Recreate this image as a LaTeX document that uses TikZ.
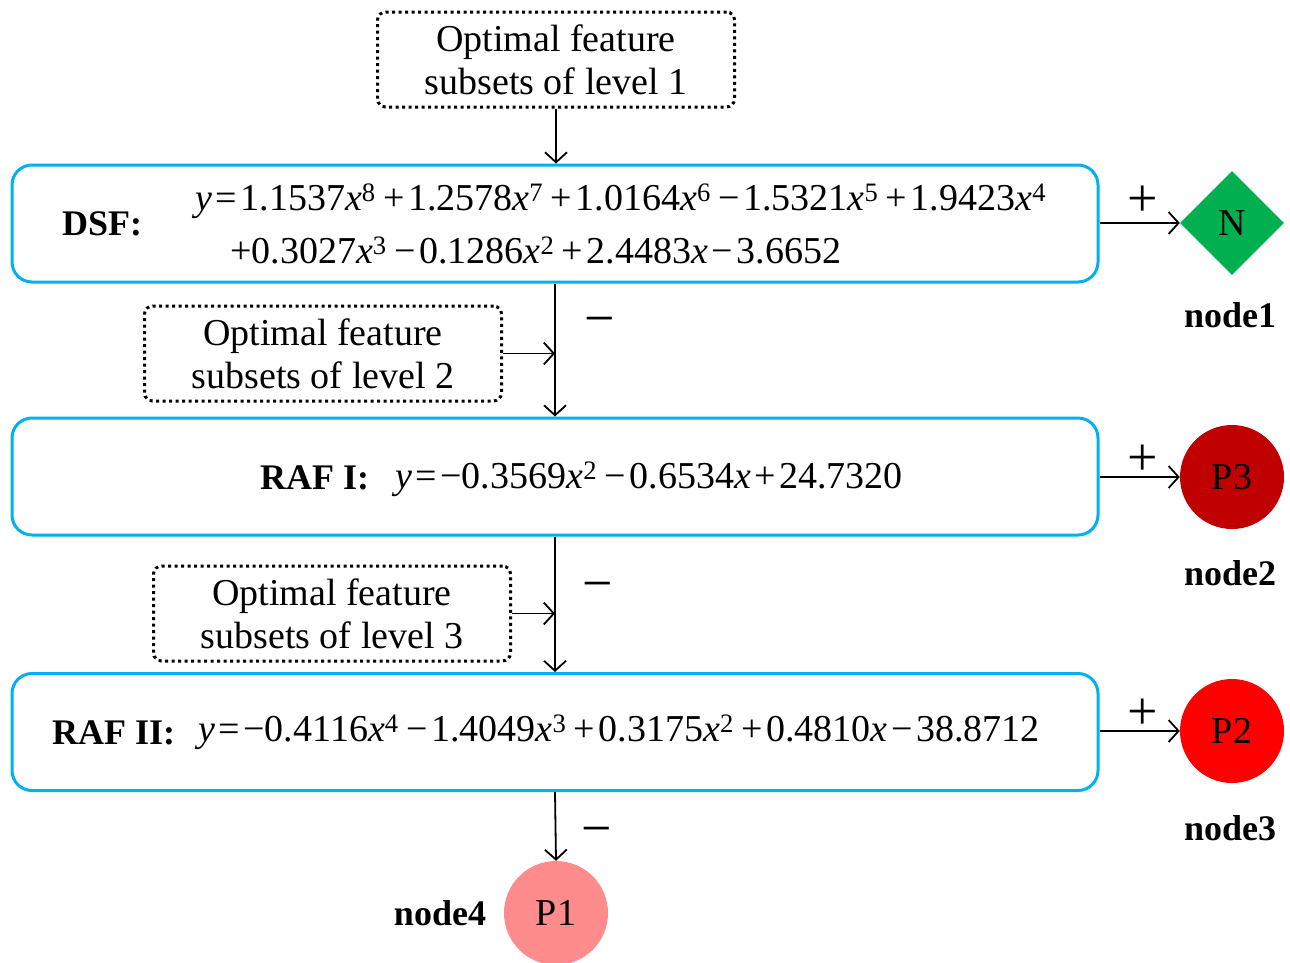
\documentclass[tikz,border=0pt]{standalone}
\usepackage{fontspec}
\setmainfont{Liberation Serif}
\usetikzlibrary{shapes.geometric,arrows.meta}
\definecolor{boxblue}{RGB}{0,176,240}
\definecolor{dgreen}{RGB}{0,176,80}
\definecolor{dred}{RGB}{192,0,0}
\definecolor{pred}{RGB}{255,0,0}
\definecolor{pink}{RGB}{255,140,140}
\newcommand{\sx}[1]{\textit{x}\textsuperscript{#1}\kern4pt}
\newcommand{\op}[1]{\kern3.5pt#1\kern3.5pt}
\newcommand{\mi}{−}
\begin{document}
\begin{tikzpicture}[x=1pt,y=-1pt,
  txt/.style={font=\fontsize{38}{43}\selectfont, inner sep=0pt, align=center},
  sign/.style={font=\fontsize{54}{54}\selectfont, inner sep=0pt},
  lbl/.style={font=\fontsize{36}{40}\selectfont\bfseries, inner sep=0pt},
  modelbox/.style={draw=boxblue, line width=3pt, rounded corners=20pt, minimum width=1086pt, minimum height=117pt, inner sep=0pt},
  featbox/.style={draw, line width=3pt, dash pattern=on 3pt off 3.5pt, rounded corners=8pt, minimum width=357pt, minimum height=95pt, inner sep=0pt, align=center, font=\fontsize{38}{43}\selectfont},
  conn/.style={line width=1.8pt, -{Straight Barb[length=10pt,width=22pt,line width=1.8pt]}},
  outnode/.style={circle, minimum size=104pt, inner sep=0pt, font=\fontsize{38}{43}\selectfont}
]
\useasboundingbox (0,0) rectangle (1290,962);
% feature subset boxes
\node[featbox] (f1) at (556,59.5) {Optimal feature\\subsets of level 1};
\node[featbox] (f2) at (323,353.5) {Optimal feature\\subsets of level 2};
\node[featbox] (f3) at (332,613.5) {Optimal feature\\subsets of level 3};
% model boxes
\node[modelbox] (dsf) at (555,223.5) {};
\node[modelbox] (raf1) at (555,476.5) {};
\node[modelbox] (raf2) at (555,732) {};
% contents
\node[lbl, anchor=west] (dsfl) at (62,224) {DSF:};
\node[txt, anchor=west] (eq1a) at (195,201) {\textit{y}\op{=}1.1537\sx{8}\op{+}1.2578\sx{7}\op{+}1.0164\sx{6}\op{\mi}1.5321\sx{5}\op{+}1.9423\textit{x}\textsuperscript{4}};
\node[txt, anchor=west] (eq1b) at (230,250) {+0.3027\sx{3}\op{\mi}0.1286\sx{2}\op{+}2.4483\textit{x}\op{\mi}3.6652};
\node[lbl, anchor=west] (raf1l) at (260,478) {RAF I:};
\node[txt, anchor=west] (eq2) at (395,479) {\textit{y}\op{=}\mi0.3569\sx{2}\op{\mi}0.6534\textit{x}\op{+}24.7320};
\node[lbl, anchor=west] (raf2l) at (52,733) {RAF II:};
\node[txt, anchor=west] (eq3) at (198,732) {\textit{y}\op{=}\mi0.4116\sx{4}\op{\mi}1.4049\sx{3}\op{+}0.3175\sx{2}\op{+}0.4810\textit{x}\op{\mi}38.8712};
% output nodes
\node[diamond, aspect=1, fill=dgreen, minimum width=104pt, minimum height=104pt, inner sep=0pt, font=\fontsize{38}{43}\selectfont] (n1) at (1232,223) {N};
\node[outnode, fill=dred] (n2) at (1232,477) {P3};
\node[outnode, fill=pred] (n3) at (1232,731) {P2};
\node[outnode, fill=pink] (n4) at (556,913) {P1};
\node[lbl] (l1) at (1230,315) {node1};
\node[lbl] (l2) at (1230,573) {node2};
\node[lbl] (l3) at (1230,828) {node3};
\node[lbl] (l4) at (440,913) {node4};
% signs
\node[sign] (s1) at (1143,201) {+};
\node[sign] (s2) at (1143,460) {+};
\node[sign] (s3) at (1143,714) {+};
\node[sign] (m1) at (600,327) {\mi};
\node[sign] (m2) at (598,592) {\mi};
\node[sign] (m3) at (597,837) {\mi};
% connectors
\draw[conn] (f1.south) -- (f1.south |- dsf.north);
\draw[conn] (dsf.south) -- (raf1.north);
\draw[conn] (raf1.south) -- (raf2.north);
\draw[conn] (raf2.south) -- (n4.north);
\draw[conn] (f2.east) -- (f2.east -| dsf.south);
\draw[conn] (f3.east) -- (f3.east -| raf1.south);
\draw[conn] (dsf.east |- n1.west) -- (n1.west);
\draw[conn] (raf1.east |- n2.west) -- (n2.west);
\draw[conn] (raf2.east |- n3.west) -- (n3.west);
\end{tikzpicture}
\end{document}
